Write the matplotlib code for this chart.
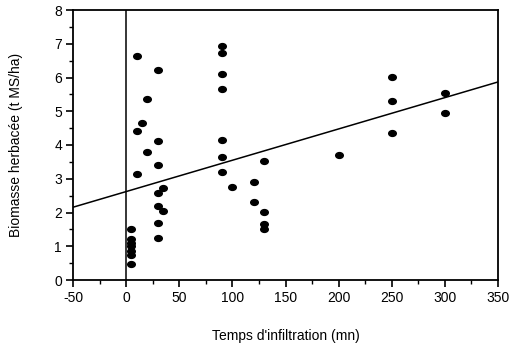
import numpy as np
import matplotlib
matplotlib.use('Agg')
import matplotlib.pyplot as plt
from matplotlib.path import Path
from matplotlib.ticker import MultipleLocator

plt.rcParams['font.family'] = ['Liberation Sans', 'DejaVu Sans']
plt.rcParams['axes.unicode_minus'] = False

# Temps d'infiltration (mn) and biomasse (t MS/ha)
temps = [10, 30, 20, 15, 10, 30, 20, 30, 10, 35, 30, 30, 35, 30, 30,
         5, 5, 5, 5, 5, 5, 5,
         90, 90, 90, 90, 90, 90, 90, 100, 120, 120, 130, 130, 130, 130,
         200, 250, 250, 250, 300, 300]
biomasse = [6.65, 6.22, 5.36, 4.65, 4.41, 4.12, 3.80, 3.42, 3.15, 2.73, 2.57, 2.20, 2.03, 1.68, 1.25,
            1.52, 1.22, 1.10, 1.02, 0.85, 0.73, 0.47,
            6.92, 6.74, 6.10, 5.67, 4.16, 3.64, 3.20, 2.76, 2.91, 2.32, 3.53, 2.02, 1.67, 1.50,
            3.71, 6.01, 5.30, 4.35, 5.55, 4.95]

# regression line (intercept, slope)
intercept = 2.62
slope = 0.00928

# ellipse marker, wider than tall
ellipse = Path.unit_circle().transformed(matplotlib.transforms.Affine2D().scale(1.3, 1.0))

fig = plt.figure(figsize=(5.11, 3.47), dpi=100)
ax = fig.add_axes([73 / 511, 67 / 347, 425 / 511, 270 / 347])

ax.scatter(temps, biomasse, marker=ellipse, s=30, color='black', zorder=3)

xs = np.array([-50, 350])
ax.plot(xs, intercept + slope * xs, color='black', lw=1.1)
ax.axvline(0, color='black', lw=1.1)

ax.set_xlim(-50, 350)
ax.set_ylim(0, 8)
ax.xaxis.set_major_locator(MultipleLocator(50))
ax.xaxis.set_minor_locator(MultipleLocator(25))
ax.yaxis.set_major_locator(MultipleLocator(1))
ax.yaxis.set_minor_locator(MultipleLocator(0.5))
ax.tick_params(which='major', direction='out', length=5, width=1.2, labelsize=10, pad=3)
ax.tick_params(which='minor', direction='out', length=3, width=1.0)
for s in ax.spines.values():
    s.set_linewidth(1.3)

ax.set_xlabel("Temps d'infiltration (mn)", fontsize=10, labelpad=17)
ax.set_ylabel('Biomasse herbacée (t MS/ha)', fontsize=10, labelpad=22)

fig.savefig('out.png', dpi=100)
